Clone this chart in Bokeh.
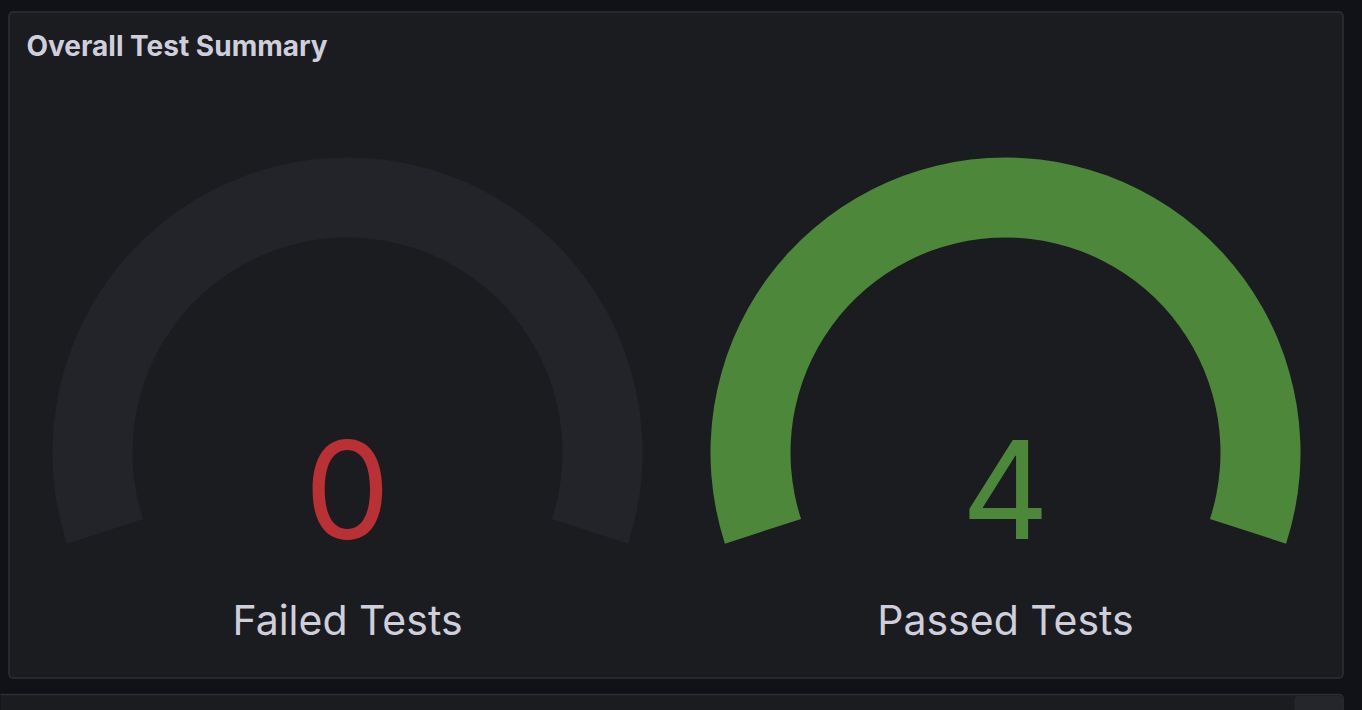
import math
from bokeh.plotting import figure
from bokeh.models import ColumnDataSource, Range1d
from bokeh.core.properties import value
from bokeh.embed import file_html
from bokeh.resources import INLINE

# ---- data ----
title_text = "Overall Test Summary"
gauge_labels = ["Failed Tests", "Passed Tests"]
gauge_values = [0, 4]
gauge_max = 4
gauge_colors = ["#b93035", "#4c873a"]

# ---- styling ----
W, H = 1362, 710
PAGE_BG = "#111217"
PANEL_BG = "#1b1c20"
PANEL_BORDER = "#2e2f35"
TRACK = "#232429"
TEXT = "#cfcfdc"
FONT = "Inter"

START_DEG = 198.0   # left end of the arc (math angle)
SPAN_DEG = 216.0

p = figure(width=W, height=H, output_backend="svg", toolbar_location=None,
           x_range=Range1d(0, W), y_range=Range1d(0, H),
           min_border=0, background_fill_color=PAGE_BG, border_fill_color=PAGE_BG,
           outline_line_color=None)
p.axis.visible = False
p.grid.visible = False

# panel frame
p.quad(left=[8.5], right=[1342.5], bottom=[32.5], top=[698.5],
       fill_color=PANEL_BG, line_color=PANEL_BORDER, line_width=1.5, border_radius=4)
# next panel (cut off at bottom)
p.quad(left=[-12], right=[1342.5], bottom=[-20], top=[16],
       fill_color=PANEL_BG, line_color=PANEL_BORDER, line_width=1.5, border_radius=4)
p.quad(left=[1294], right=[1342], bottom=[-20], top=[14.5],
       fill_color="#25262b", line_color=None, border_radius=4)

# title
p.text(x=[26], y=[665], text=[title_text], text_font=value(FONT),
       text_font_size="28px", text_color=TEXT, text_align="left",
       text_baseline="alphabetic", text_font_style="bold")

# gauges
cx = [347, 1005]
cy = [258, 258]
r_out, r_in = 295, 215

start = [math.radians(START_DEG - SPAN_DEG)] * len(gauge_values)
end = [math.radians(START_DEG)] * len(gauge_values)
track_src = ColumnDataSource(dict(x=cx, y=cy, s=start, e=end))
p.annular_wedge(x="x", y="y", inner_radius=r_in, outer_radius=r_out,
                start_angle="s", end_angle="e", source=track_src,
                fill_color=TRACK, line_color=None)

fx, fy, fs, fe, fc = [], [], [], [], []
for i, v in enumerate(gauge_values):
    frac = v / gauge_max
    if frac > 0:
        fx.append(cx[i]); fy.append(cy[i])
        fs.append(math.radians(START_DEG - SPAN_DEG * frac))
        fe.append(math.radians(START_DEG))
        fc.append(gauge_colors[i])
fill_src = ColumnDataSource(dict(x=fx, y=fy, s=fs, e=fe, c=fc))
p.annular_wedge(x="x", y="y", inner_radius=r_in, outer_radius=r_out,
                start_angle="s", end_angle="e", source=fill_src,
                fill_color="c", line_color=None)

val_src = ColumnDataSource(dict(x=cx, y=[221] * 2,
                                t=[str(v) for v in gauge_values], c=gauge_colors))
p.text(x="x", y="y", text="t", text_color="c", source=val_src,
       text_font=value(FONT), text_font_size="136px", text_align="center",
       text_baseline="alphabetic")

lab_src = ColumnDataSource(dict(x=cx, y=[91] * 2, t=gauge_labels))
p.text(x="x", y="y", text="t", source=lab_src, text_color=TEXT,
       text_font=value(FONT), text_font_size="41px", text_align="center",
       text_baseline="alphabetic")

html = file_html(p, INLINE)
html = html.replace("<head>", "<head><style>html,body{background:#111217;}</style>", 1)
open("out.html", "w").write(html)
